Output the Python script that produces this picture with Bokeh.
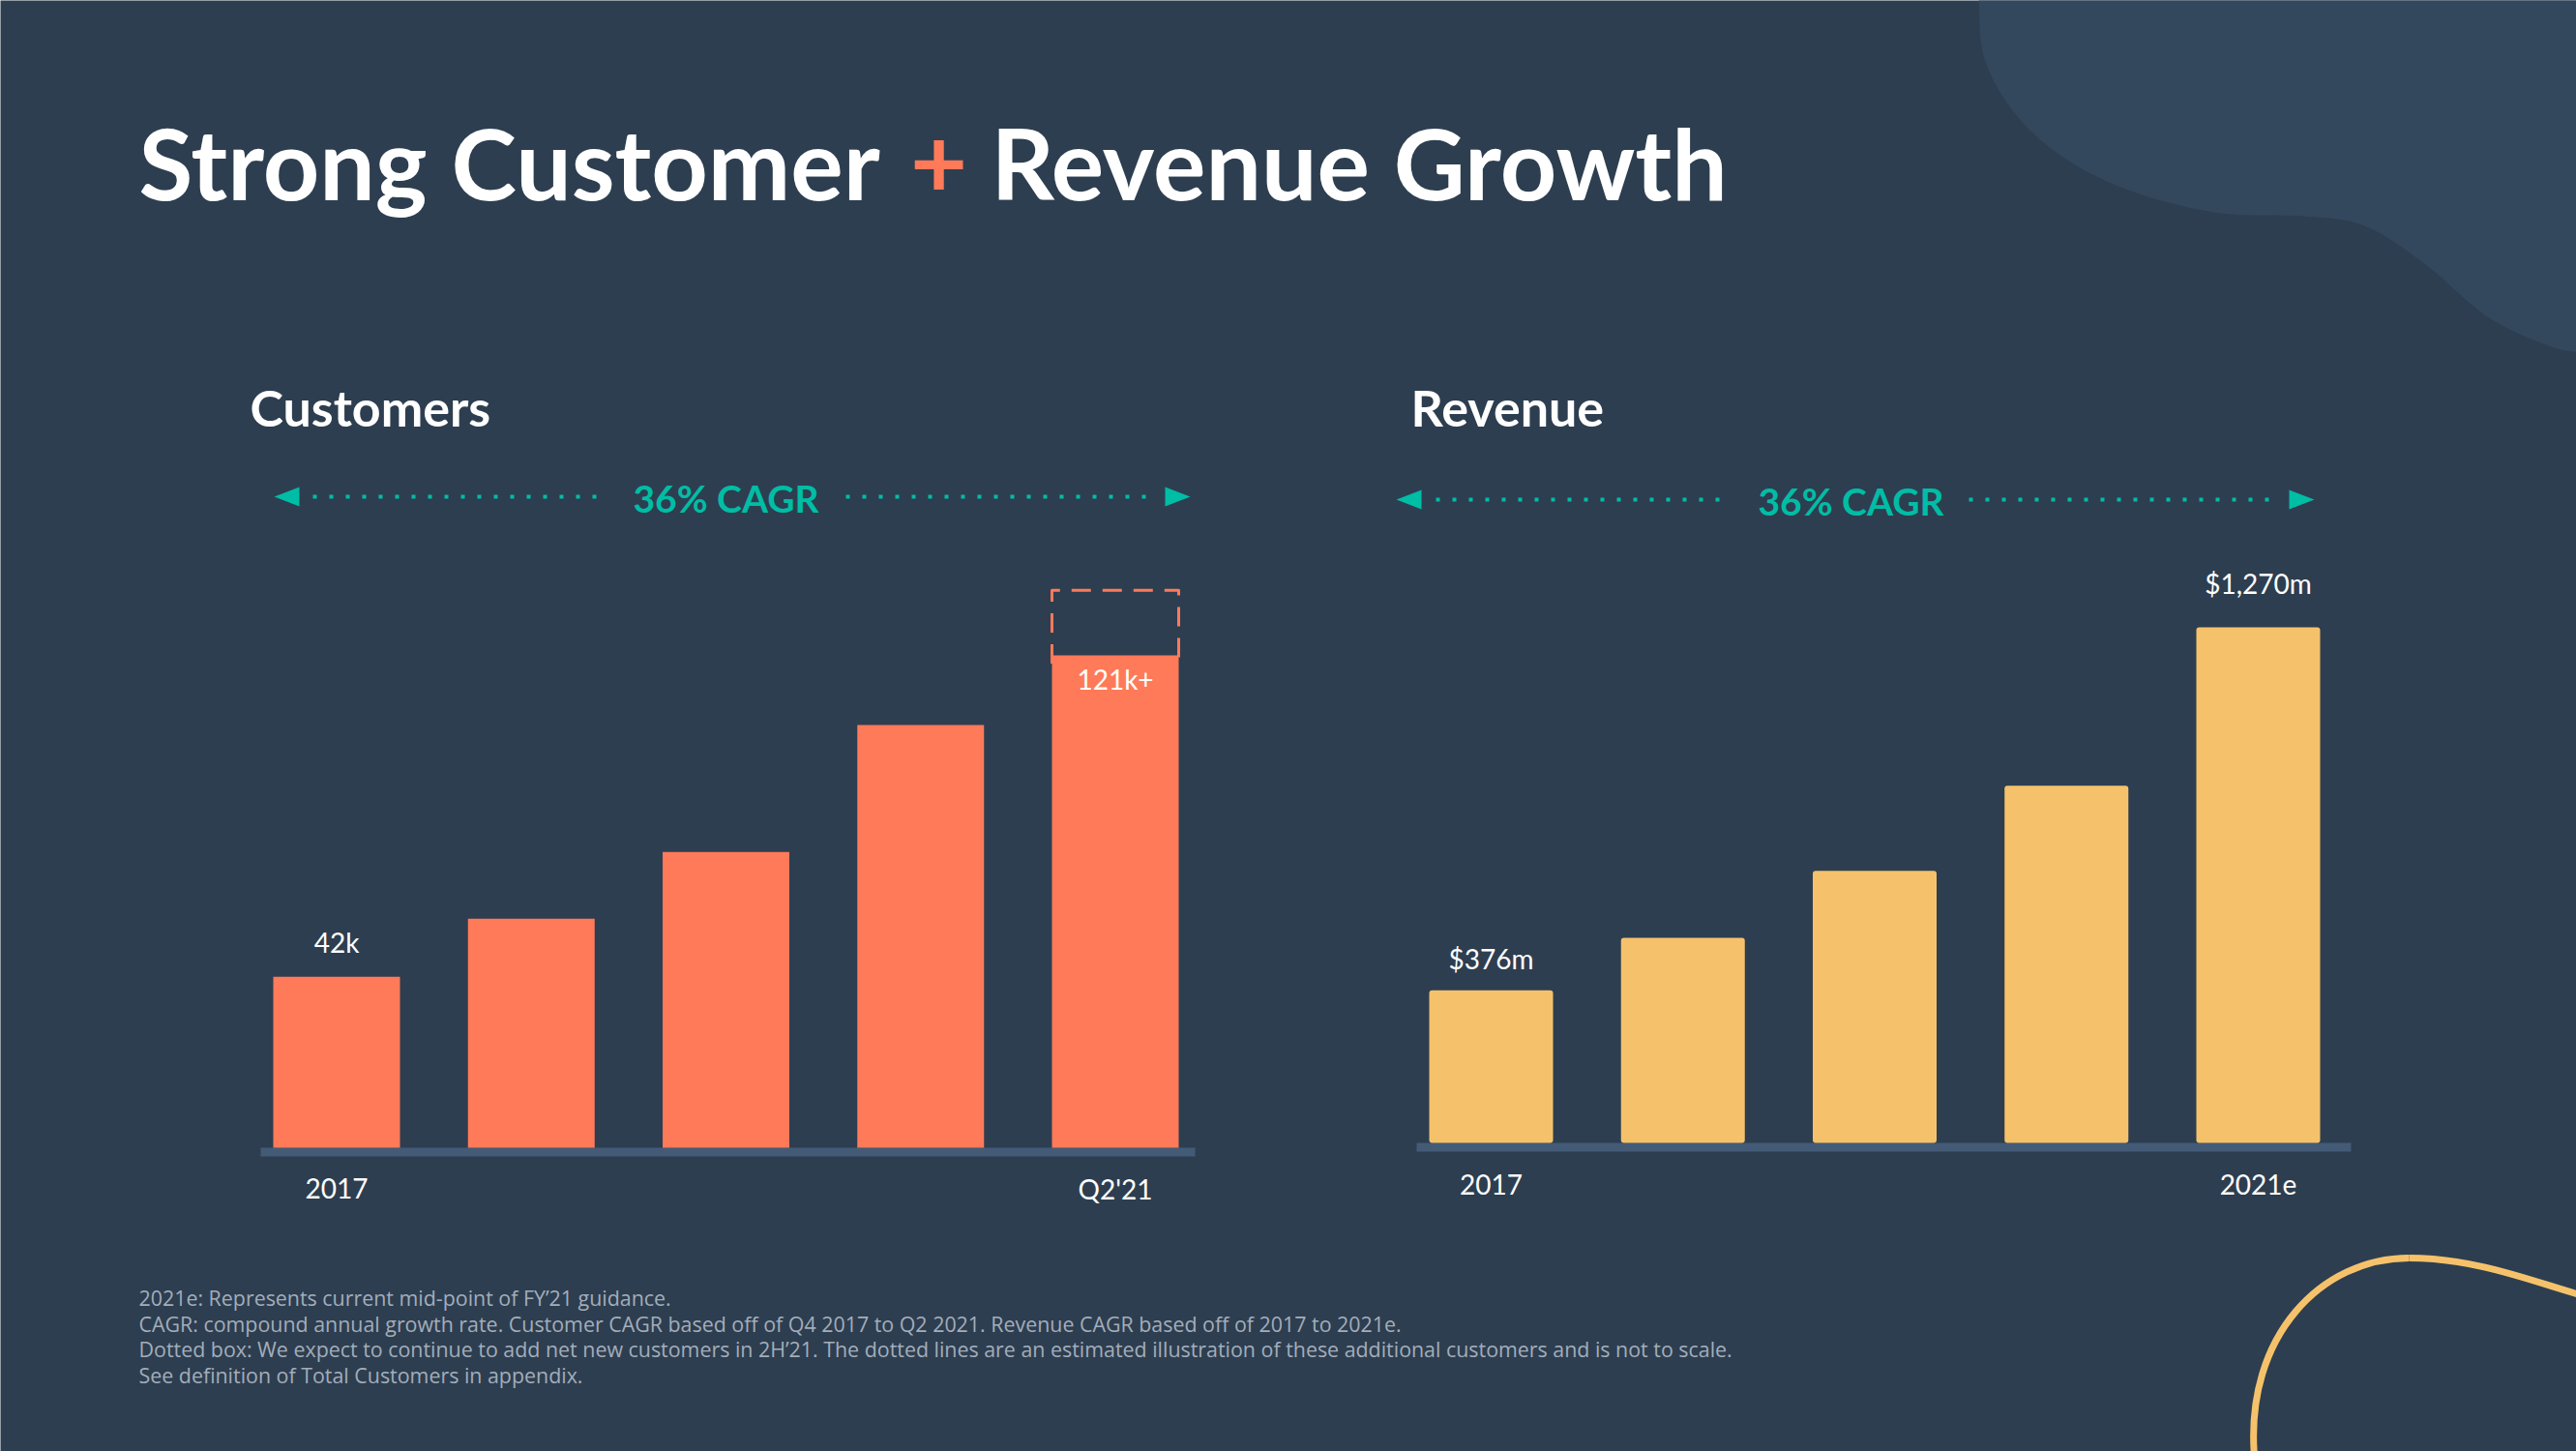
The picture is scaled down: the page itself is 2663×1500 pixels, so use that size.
import numpy as np
from bokeh.plotting import figure
from bokeh.models import Range1d
from bokeh.core.properties import value
from bokeh.embed import file_html
from bokeh.resources import INLINE

# ---------------- data ----------------
title_left = "Strong Customer"
title_plus = "+"
title_right = "Revenue Growth"

cust_title = "Customers"
cust_categories = ["2017", "2018", "2019", "2020", "Q2'21"]
cust_values = [42, 56.3, 72.7, 103.9, 121]          # thousands of customers
cust_labels = ["42k", "", "", "", "121k+"]
cust_estimate = 137                                  # dotted box top (illustrative)
cust_tick_labels = ["2017", "", "", "", "Q2'21"]
cust_cagr = "36% CAGR"

rev_title = "Revenue"
rev_categories = ["2017", "2018", "2019", "2020", "2021e"]
rev_values = [376, 505, 670, 880, 1270]              # $m
rev_labels = ["$376m", "", "", "", "$1,270m"]
rev_tick_labels = ["2017", "", "", "", "2021e"]
rev_cagr = "36% CAGR"

footnotes = [
    "2021e: Represents current mid-point of FY\u201921 guidance.",
    "CAGR: compound annual growth rate. Customer CAGR based off of Q4 2017 to Q2 2021. Revenue CAGR based off of 2017 to 2021e.",
    "Dotted box: We expect to continue to add net new customers in 2H\u201921. The dotted lines are an estimated illustration of these additional customers and is not to scale.",
    "See definition of Total Customers in appendix.",
]

# ---------------- style ----------------
BG = "#2d3e50"
BLOB = "#33485c"
ORANGE = "#ff7a59"
YELLOW = "#f5c26b"
TEAL = "#00bda5"
BAND = "#435b77"
WHITE = "#ffffff"
NOTE = "#a3adba"
FONT = value("Lato")
W, H = 2663, 1500

p = figure(width=W, height=H, x_range=Range1d(0, W), y_range=Range1d(H, 0),
           x_axis_location=None, y_axis_location=None, min_border=0,
           output_backend="svg", toolbar_location=None,
           background_fill_color=BG, border_fill_color=BG, outline_line_color=None)
p.grid.visible = False


def catmull(pts, n=14):
    pts = np.asarray(pts, float)
    P = np.vstack([pts[0], pts, pts[-1]])
    out = []
    for i in range(1, len(P) - 2):
        p0, p1, p2, p3 = P[i - 1], P[i], P[i + 1], P[i + 2]
        for t in np.linspace(0, 1, n, endpoint=False):
            t2, t3 = t * t, t * t * t
            out.append(0.5 * ((2 * p1) + (-p0 + p2) * t + (2 * p0 - 5 * p1 + 4 * p2 - p3) * t2
                              + (-p0 + 3 * p1 - 3 * p2 + p3) * t3))
    out.append(P[-2])
    return np.array(out)


# ---------------- background decoration ----------------
blob_edge = [(2045, -5), (2051, 60), (2085, 120), (2140, 167), (2211, 200), (2296, 220),
             (2381, 223), (2444, 233), (2507, 273), (2571, 327), (2634, 357), (2670, 364)]
c = catmull(blob_edge)
p.patch(list(c[:, 0]) + [2670, 2670], list(c[:, 1]) + [-5, -5], fill_color=BLOB, line_color=None)
p.bezier(x0=[2330, 2490], y0=[1505, 1300], x1=[2490, 2670], y1=[1300, 1339],
         cx0=[2320, 2560], cy0=[1380, 1300], cx1=[2400, 2620], cy1=[1300, 1325],
         line_color=YELLOW, line_width=7)

# ---------------- title ----------------
tkw = dict(text_font=FONT, text_font_style="bold", text_font_size="102px", text_baseline="middle")
p.text(x=[143], y=[167], text=[title_left], text_color=WHITE, text_align="left", **tkw)
p.text(x=[970], y=[167], text=[title_plus], text_color=ORANGE, text_align="center", **tkw)
p.text(x=[1024], y=[167], text=[title_right], text_color=WHITE, text_align="left", **tkw)


# ---------------- charts (each with its own scales) ----------------
def chart(name, c0, sp, base, k, values, labels, offsets, tick_labels, cats, color, radius,
          heading, head_x, cagr, cagr_cx, cagr_y, tips, dots, band, bar_w_px, tick_y):
    X = lambda px: (px - c0) / sp
    Y = lambda py: (base - py) / k
    xn, yn = name + "_x", name + "_y"
    p.extra_x_ranges[xn] = Range1d(X(0), X(W))
    p.extra_y_ranges[yn] = Range1d(Y(H), Y(0))
    r = dict(x_range_name=xn, y_range_name=yn)

    p.text(x=[X(head_x)], y=[Y(420)], text=[heading], text_font=FONT, text_font_style="bold",
           text_font_size="52px", text_color=WHITE, text_baseline="middle", text_align="left", **r)
    p.text(x=[X(cagr_cx)], y=[Y(cagr_y + 1)], text=[cagr], text_font=FONT, text_font_style="bold",
           text_font_size="39px", text_color=TEAL, text_baseline="middle", text_align="center", **r)
    for a, b in dots:
        p.line([X(a), X(b)], [Y(cagr_y), Y(cagr_y)], line_color=TEAL, line_width=4,
               line_dash="4 13", **r)
    lt, rt = tips
    p.patch([X(lt), X(lt + 26), X(lt + 26)], [Y(cagr_y), Y(cagr_y - 10), Y(cagr_y + 10)],
            fill_color=TEAL, line_color=None, **r)
    p.patch([X(rt), X(rt - 26), X(rt - 26)], [Y(cagr_y), Y(cagr_y - 10), Y(cagr_y + 10)],
            fill_color=TEAL, line_color=None, **r)

    # baseline band
    p.quad(left=[X(band[0])], right=[X(band[1])], top=[0], bottom=[Y(base + 9)],
           fill_color=BAND, line_color=None, **r)

    idx = list(range(len(values)))
    bw = bar_w_px / sp
    p.vbar(x=idx, top=values, bottom=0, width=bw, fill_color=color, line_color=None,
           border_radius=radius, **r)

    for i, (lab, off) in enumerate(zip(labels, offsets)):
        if lab:
            p.text(x=[i], y=[values[i]], text=[lab], y_offset=off, text_font=FONT,
                   text_font_size="28px", text_color=WHITE, text_baseline="middle",
                   text_align="center", **r)
    # category tick labels (first and last shown)
    ti = [i for i, t in enumerate(tick_labels) if t]
    p.text(x=ti, y=[Y(tick_y)] * len(ti), text=[tick_labels[i] for i in ti], text_font=FONT,
           text_font_size="28px", text_color=WHITE, text_baseline="middle",
           text_align="center", **r)
    return bw, r


cbw, cr = chart("cust", 347.5, 201.25, 1186, 509 / 121, cust_values, cust_labels,
                [-36, 0, 0, 0, 24], cust_tick_labels, cust_categories, ORANGE, 0,
                cust_title, 258, cust_cagr, 750, 513, (283, 1230),
                [(323, 628), (874, 1196)], (269, 1235), 131, 1228)
# dotted box for expected additional customers
last = len(cust_values) - 1
p.line([last - cbw / 2, last - cbw / 2, last + cbw / 2, last + cbw / 2],
       [cust_values[last] - 2, cust_estimate, cust_estimate, cust_values[last] - 2],
       line_color=ORANGE, line_width=3, line_dash="20 12", line_join="round", **cr)

chart("rev", 1541, 198.25, 1181, 533 / 1270, rev_values, rev_labels,
      [-33, 0, 0, 0, -46], rev_tick_labels, rev_categories, YELLOW, 3,
      rev_title, 1458, rev_cagr, 1913, 516, (1443, 2392),
      [(1484, 1789), (2035, 2358)], (1464, 2430), 128, 1224)

# ---------------- footnotes ----------------
p.text(x=[143] * len(footnotes), y=[1341 + 26.5 * i for i in range(len(footnotes))],
       text=footnotes, text_font=value("Open Sans"), text_font_size="21.4px",
       text_color=NOTE, text_baseline="middle", text_align="left")

open("out.html", "w").write(file_html(p, INLINE))
